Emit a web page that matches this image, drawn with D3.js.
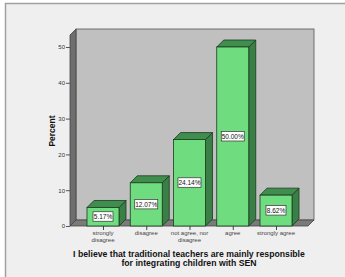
<!DOCTYPE html>
<html><head><meta charset="utf-8">
<script src="https://cdn.jsdelivr.net/npm/d3@7"></script>
<style>body{margin:0;background:#fff}svg{display:block}</style>
</head><body>
<script>
const categories = ["strongly disagree","disagree","not agree, nor disagree","agree","strongly agree"];
const categoryLines = [["strongly","disagree"],["disagree"],["not agree, nor","disagree"],["agree"],["strongly agree"]];
const values = [5.17, 12.07, 24.14, 50.00, 8.62];
const valueLabels = ["5.17%","12.07%","24.14%","50.00%","8.62%"];
const yTicks = [0,10,20,30,40,50];
const yTitle = "Percent";
const xTitle = ["I believe that traditional teachers are mainly responsible","for integrating children with SEN"];

const W = 345, H = 277;
const svg = d3.select("body").append("svg").attr("width", W).attr("height", H);

// frame
svg.append("rect").attr("x",5.5).attr("y",3.5).attr("width",345).attr("height",280)
  .attr("fill","#efefef").attr("stroke","#a0a0a0").attr("stroke-width",1.5);

const y = d3.scaleLinear().domain([0,50]).range([226,47]);
const x = d3.scalePoint().domain(categories).range([103,276]);
const barW = 32;
const dx = 6, dy = -6;   // wall depth
const bdx = 7, bdy = -7; // bar depth
const axX = 70, wallTop = 35;
const x1 = 308;

// back wall
svg.append("rect").attr("x",axX+dx).attr("y",wallTop+dy).attr("width",x1-axX).attr("height",y(0)-wallTop)
  .attr("fill","#c0c0c0").attr("stroke","#555").attr("stroke-width",0.8);
// side wall
svg.append("path").attr("d",`M${axX},${wallTop}L${axX+dx},${wallTop+dy}L${axX+dx},${y(0)+dy}L${axX},${y(0)}Z`)
  .attr("fill","#6e6e6e").attr("stroke","#444").attr("stroke-width",0.8);
// floor
svg.append("path").attr("d",`M${axX},${y(0)}L${axX+dx},${y(0)+dy}L${x1+dx},${y(0)+dy}L${x1},${y(0)}Z`)
  .attr("fill","#7a7a7a").attr("stroke","#444").attr("stroke-width",0.8);

// y axis
const yAxis = d3.axisLeft(y).tickValues(yTicks).tickSize(4).tickPadding(1);
const gy = svg.append("g").attr("transform",`translate(${axX},0)`).call(yAxis);
gy.select(".domain").remove();
gy.selectAll("line").attr("stroke","#555");
gy.selectAll("text").attr("font-family","Arial, 'Liberation Sans', sans-serif").attr("font-size",6).attr("fill","#333");

// x axis
const xAxis = d3.axisBottom(x).tickSize(4).tickFormat("");
const gx = svg.append("g").attr("transform",`translate(0,${y(0)})`).call(xAxis);
gx.select(".domain").remove();
gx.selectAll("line").attr("stroke","#444");
categories.forEach((c,i)=>{
  const t = svg.append("text").attr("x",x(c)).attr("y",235).attr("text-anchor","middle")
    .attr("font-family","Arial, 'Liberation Sans', sans-serif").attr("font-size",6).attr("fill","#444");
  categoryLines[i].forEach((l,j)=>t.append("tspan").attr("x",x(c)).attr("dy",j?6.5:0).text(l));
});

// bars
const g = svg.append("g");
categories.forEach((c,i)=>{
  const xl = x(c)-barW/2, xr = x(c)+barW/2, yt = y(values[i]), yb = y(0);
  g.append("path").attr("d",`M${xr},${yt}L${xr+bdx},${yt+bdy}L${xr+bdx},${yb+bdy}L${xr},${yb}Z`)
    .attr("fill","#3a7f46").attr("stroke","#1c3a20").attr("stroke-width",0.8);
  g.append("path").attr("d",`M${xl},${yt}L${xl+bdx},${yt+bdy}L${xr+bdx},${yt+bdy}L${xr},${yt}Z`)
    .attr("fill","#3f8e4e").attr("stroke","#1c3a20").attr("stroke-width",0.8);
  g.append("rect").attr("x",xl).attr("y",yt).attr("width",barW).attr("height",yb-yt)
    .attr("fill","#70dc80").attr("stroke","#1c3a20").attr("stroke-width",0.8);
  const cy = (yt+yb)/2;
  const lw = valueLabels[i].length>5?23:20;
  g.append("rect").attr("x",x(c)-lw/2).attr("y",cy-5).attr("width",lw).attr("height",9.5)
    .attr("fill","#fff").attr("stroke","#333").attr("stroke-width",0.7);
  g.append("text").attr("x",x(c)).attr("y",cy+2.3).attr("text-anchor","middle")
    .attr("font-family","Arial, 'Liberation Sans', sans-serif").attr("font-size",6.5).attr("fill","#111")
    .text(valueLabels[i]);
});

// titles
svg.append("text").attr("transform",`translate(55,131) rotate(-90)`).attr("text-anchor","middle")
  .attr("font-family","Arial, 'Liberation Sans', sans-serif").attr("font-weight","bold").attr("font-size",8.5).attr("fill","#111")
  .text(yTitle);
xTitle.forEach((l,j)=>svg.append("text").attr("x",189).attr("y",257+j*8.5).attr("text-anchor","middle")
  .attr("font-family","Arial, 'Liberation Sans', sans-serif").attr("font-weight","bold").attr("font-size",8.7).attr("fill","#111").text(l));
</script>
</body></html>
